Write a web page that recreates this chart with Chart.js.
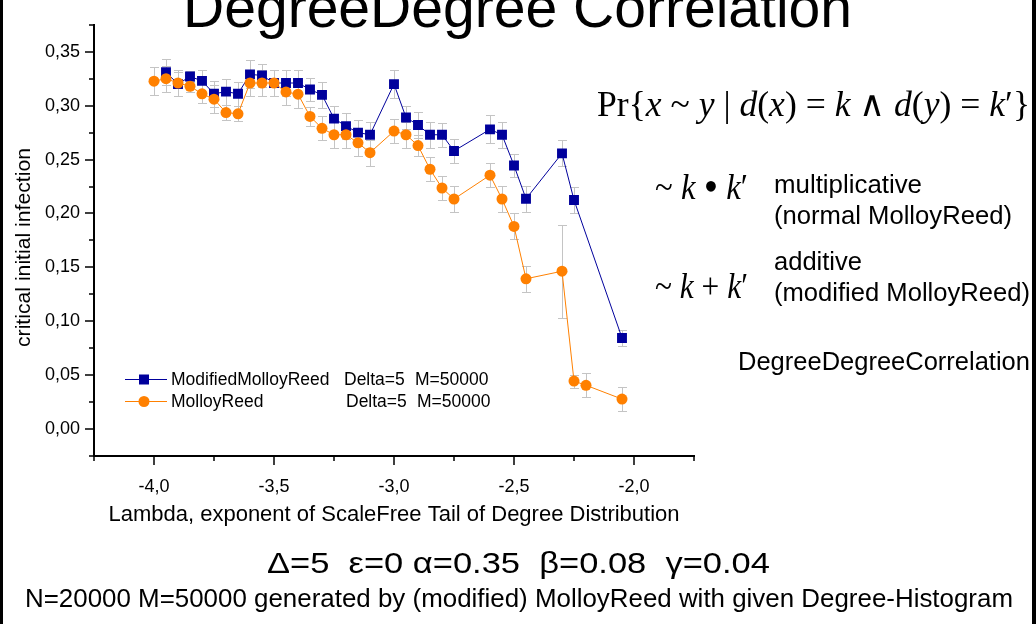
<!DOCTYPE html>
<html>
<head>
<meta charset="utf-8">
<script src="https://cdn.jsdelivr.net/npm/chart.js@4.4.1/dist/chart.umd.min.js"></script>
<style>
  html, body { margin: 0; padding: 0; background: #fff; overflow: hidden; }
  #wrap { position: relative; width: 1036px; height: 624px; }
  #chartCorr { position: absolute; left: 0; top: 0; }
  svg { position: absolute; left: 0; top: 0; pointer-events: none; }
  svg text { font-family: 'Liberation Sans', Arial, sans-serif; fill: #000; white-space: pre; }
  svg text.serif { font-family: 'Liberation Serif', 'Times New Roman', serif; }
</style>
</head>
<body>
<div id="wrap">
<canvas id="chartCorr" width="1036" height="624"></canvas>
<svg width="1036" height="624">
  <rect x="0" y="0" width="3" height="624" fill="#000"/>
  <rect x="1032" y="0" width="4" height="624" fill="#000"/>
  <text x="183" y="27" font-size="57" textLength="669" lengthAdjust="spacingAndGlyphs">DegreeDegree Correlation</text>
  <text class="serif" x="597" y="116" font-size="36" textLength="433" lengthAdjust="spacingAndGlyphs">Pr{<tspan font-style="italic">x</tspan> ~ <tspan font-style="italic">y</tspan> | <tspan font-style="italic">d</tspan>(<tspan font-style="italic">x</tspan>) = <tspan font-style="italic">k</tspan> ∧ <tspan font-style="italic">d</tspan>(<tspan font-style="italic">y</tspan>) = <tspan font-style="italic">k</tspan>′}</text>
  <text class="serif" x="655" y="199" font-size="35" textLength="93" lengthAdjust="spacingAndGlyphs">~ <tspan font-style="italic">k</tspan> <tspan font-size="44" dy="2">•</tspan><tspan dy="-2"> </tspan><tspan font-style="italic">k</tspan>′</text>
  <text x="774" y="193" font-size="25" textLength="148" lengthAdjust="spacingAndGlyphs">multiplicative</text>
  <text x="774" y="224" font-size="25" textLength="238" lengthAdjust="spacingAndGlyphs">(normal MolloyReed)</text>
  <text x="774" y="270" font-size="25" textLength="88" lengthAdjust="spacingAndGlyphs">additive</text>
  <text class="serif" x="655" y="298" font-size="35" textLength="93" lengthAdjust="spacingAndGlyphs">~ <tspan font-style="italic">k</tspan> + <tspan font-style="italic">k</tspan>′</text>
  <text x="774" y="301" font-size="25" textLength="256" lengthAdjust="spacingAndGlyphs">(modified MolloyReed)</text>
  <text x="738" y="370" font-size="25" textLength="292" lengthAdjust="spacingAndGlyphs">DegreeDegreeCorrelation</text>
  <text transform="translate(30,247.5) rotate(-90)" text-anchor="middle" font-size="21" textLength="199" lengthAdjust="spacingAndGlyphs">critical initial infection</text>
  <text x="267" y="573" font-size="30" textLength="503" lengthAdjust="spacingAndGlyphs">Δ=5  ε=0 α=0.35  β=0.08  γ=0.04</text>
  <text x="25" y="607" font-size="26" textLength="988" lengthAdjust="spacingAndGlyphs">N=20000 M=50000 generated by (modified) MolloyReed with given Degree-Histogram</text>
</svg>
</div>
<script>
var xTitle = "Lambda, exponent of ScaleFree Tail of Degree Distribution";
var seriesNames = ["ModifiedMolloyReed", "MolloyReed"];
var seriesDelta = ["Delta=5", "Delta=5"];
var seriesM = ["M=50000", "M=50000"];

// ModifiedMolloyReed (blue squares)
var modLambda = [-3.95, -3.9, -3.85, -3.8, -3.75, -3.7, -3.65, -3.6, -3.55, -3.5, -3.45, -3.4, -3.35, -3.3, -3.25, -3.2, -3.15, -3.1,
                 -3.0, -2.95, -2.9, -2.85, -2.8, -2.75, -2.6, -2.55, -2.5, -2.45, -2.3, -2.25, -2.05];
var modValue = [0.331, 0.320, 0.327, 0.323, 0.311, 0.313, 0.311, 0.329, 0.328, 0.321, 0.321, 0.321, 0.315, 0.310, 0.288, 0.281, 0.275, 0.273,
                0.320, 0.289, 0.282, 0.273, 0.273, 0.258, 0.278, 0.273, 0.2445, 0.2136, 0.2557, 0.2125, 0.0845];
var modError = [0.012, 0.011, 0.005, 0.010, 0.012, 0.012, 0.011, 0.013, 0.011, 0.012, 0.012, 0.012, 0.011, 0.012, 0.012, 0.012, 0.012, 0.012,
                0.013, 0.011, 0.012, 0.012, 0.011, 0.011, 0.013, 0.012, 0.011, 0.012, 0.012, 0.012, 0.007];

// MolloyReed (orange circles)
var mrLambda = [-4.0, -3.95, -3.9, -3.85, -3.8, -3.75, -3.7, -3.65, -3.6, -3.55, -3.5, -3.45, -3.4, -3.35, -3.3, -3.25, -3.2, -3.15, -3.1,
                -3.0, -2.95, -2.9, -2.85, -2.8, -2.75, -2.6, -2.55, -2.5, -2.45, -2.3, -2.25, -2.2, -2.05];
var mrValue = [0.3227, 0.325, 0.321, 0.318, 0.311, 0.306, 0.2936, 0.2924, 0.321, 0.321, 0.321, 0.3127, 0.3106, 0.290, 0.279, 0.273, 0.273, 0.2655, 0.2564,
               0.2764, 0.273, 0.263, 0.241, 0.2236, 0.2134, 0.2355, 0.2134, 0.188, 0.1394, 0.1464, 0.0445, 0.0406, 0.0278];
var mrError = [0.013, 0.012, 0.012, 0.005, 0.009, 0.013, 0.007, 0.007, 0.012, 0.012, 0.012, 0.012, 0.013, 0.009, 0.011, 0.012, 0.012, 0.012, 0.012,
               0.011, 0.012, 0.010, 0.011, 0.011, 0.012, 0.011, 0.012, 0.012, 0.012, 0.043, 0.006, 0.011, 0.011];

var fontFam = "'Liberation Sans', Arial, sans-serif";
var blue = "#00009C";
var orange = "#FF8000";

function toPoints(xs, ys, es){
  var pts = [];
  for (var i = 0; i < xs.length; i++) {
    pts.push({x: xs[i], y: ys[i], err: es[i]});
  }
  return pts;
}

function isMajor(v, step){
  var q = v / step;
  return Math.abs(q - Math.round(q)) < 1e-6;
}

/* grey error bars with caps, under the lines */
var errorBars = {
  id: 'errorBars',
  beforeDatasetsDraw: function(chart){
    var ctx = chart.ctx, xs = chart.scales.x, ys = chart.scales.y;
    ctx.save();
    ctx.strokeStyle = '#c4c4c4';
    ctx.lineWidth = 1;
    chart.data.datasets.forEach(function(ds){
      ds.data.forEach(function(p){
        var px = Math.round(xs.getPixelForValue(p.x)) + 0.5;
        var top = Math.round(ys.getPixelForValue(p.y + p.err)) + 0.5;
        var bot = Math.round(ys.getPixelForValue(p.y - p.err)) + 0.5;
        ctx.beginPath();
        ctx.moveTo(px, top); ctx.lineTo(px, bot);
        ctx.moveTo(px - 4.5, top); ctx.lineTo(px + 4.5, top);
        ctx.moveTo(px - 4.5, bot); ctx.lineTo(px + 4.5, bot);
        ctx.stroke();
      });
    });
    ctx.restore();
  }
};

/* outward tick marks, long for labelled ticks and short for the rest */
var tickMarks = {
  id: 'tickMarks',
  afterDraw: function(chart){
    var ctx = chart.ctx, xs = chart.scales.x, ys = chart.scales.y, area = chart.chartArea;
    ctx.save();
    ctx.strokeStyle = '#000';
    ctx.lineWidth = 1.5;
    ctx.beginPath();
    xs.ticks.forEach(function(t){
      var px = Math.round(xs.getPixelForValue(t.value));
      var len = isMajor(t.value, 0.5) ? 9 : 5;
      ctx.moveTo(px, area.bottom); ctx.lineTo(px, area.bottom + len);
    });
    ys.ticks.forEach(function(t){
      var py = Math.round(ys.getPixelForValue(t.value));
      var len = isMajor(t.value, 0.05) ? 9 : 5;
      ctx.moveTo(area.left, py); ctx.lineTo(area.left - len, py);
    });
    ctx.stroke();
    ctx.restore();
  }
};

/* legend inside the plot, two rows with aligned parameter columns */
var legendBox = {
  id: 'legendBox',
  afterDraw: function(chart){
    var ctx = chart.ctx;
    var rows = [
      {ds: chart.data.datasets[1], y: 379, base: 385, dx: 344, mx: 415, name: seriesNames[0], d: seriesDelta[0], m: seriesM[0]},
      {ds: chart.data.datasets[0], y: 401, base: 407, dx: 346, mx: 417, name: seriesNames[1], d: seriesDelta[1], m: seriesM[1]}
    ];
    ctx.save();
    rows.forEach(function(r){
      ctx.strokeStyle = r.ds.borderColor;
      ctx.lineWidth = 1;
      ctx.beginPath();
      ctx.moveTo(125, r.y + 0.5); ctx.lineTo(167, r.y + 0.5);
      ctx.stroke();
      ctx.fillStyle = r.ds.backgroundColor;
      if (r.ds.pointStyle === 'rect') {
        ctx.fillRect(139, r.y - 4.5, 10, 10);
      } else {
        ctx.beginPath();
        ctx.arc(144, r.y + 0.5, 5.5, 0, Math.PI * 2);
        ctx.fill();
      }
      ctx.fillStyle = '#000';
      ctx.font = '17.5px ' + fontFam;
      ctx.textBaseline = 'alphabetic';
      ctx.fillText(r.name, 171, r.base);
      ctx.fillText(r.d, r.dx, r.base);
      ctx.fillText(r.m, r.mx, r.base);
    });
    ctx.restore();
  }
};

new Chart(document.getElementById('chartCorr'), {
  type: 'line',
  data: {
    datasets: [{
      label: seriesNames[1],
      data: toPoints(mrLambda, mrValue, mrError),
      borderColor: orange,
      backgroundColor: orange,
      borderWidth: 1,
      pointStyle: 'circle',
      pointRadius: 5.5,
      pointBorderWidth: 0,
      tension: 0,
      order: 0
    }, {
      label: seriesNames[0],
      data: toPoints(modLambda, modValue, modError),
      borderColor: blue,
      backgroundColor: blue,
      borderWidth: 1,
      pointStyle: 'rect',
      pointRadius: 7,
      pointBorderWidth: 0,
      tension: 0,
      order: 1
    }]
  },
  options: {
    responsive: false,
    animation: false,
    devicePixelRatio: 1,
    layout: { padding: { left: 0, right: 342, top: 16, bottom: 0 }, autoPadding: false },
    plugins: { legend: { display: false }, tooltip: { enabled: false } },
    scales: {
      x: {
        type: 'linear',
        min: -4.25,
        max: -1.75,
        grid: { display: false, drawTicks: false },
        border: { display: true, color: '#000', width: 2 },
        ticks: {
          stepSize: 0.25,
          autoSkip: false,
          maxRotation: 0,
          padding: 20,
          color: '#000',
          font: { family: fontFam, size: 18 },
          callback: function(v){ return isMajor(v, 0.5) ? v.toFixed(1).replace('.', ',') : ''; }
        },
        title: { display: true, text: xTitle, color: '#000', font: { family: fontFam, size: 22 }, padding: { top: 0, bottom: 96 } },
        afterFit: function(s){ s.height = 168; }
      },
      y: {
        type: 'linear',
        min: -0.025,
        max: 0.375,
        grid: { display: false, drawTicks: false },
        border: { display: true, color: '#000', width: 2 },
        ticks: {
          stepSize: 0.025,
          autoSkip: false,
          padding: 14,
          color: '#000',
          font: { family: fontFam, size: 18 },
          callback: function(v){ return isMajor(v, 0.05) ? v.toFixed(2).replace('.', ',') : ''; }
        },
        afterFit: function(s){ s.width = 94; }
      }
    }
  },
  plugins: [errorBars, tickMarks, legendBox]
});
</script>
</body>
</html>
